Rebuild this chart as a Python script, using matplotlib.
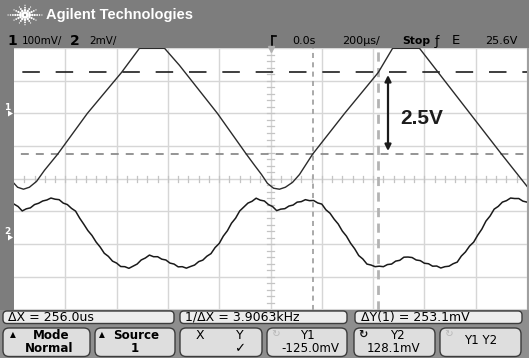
import numpy as np
import matplotlib
matplotlib.use("Agg")
import matplotlib.pyplot as plt
from matplotlib.patches import Rectangle, FancyBboxPatch

# scope settings
ch1_scale_mv = 100.0      # mV/div
ch2_scale_mv = 2.0        # mV/div
ch1_ground_div = 2.0
ch2_ground_div = -1.77
time_scale_us = 200.0     # us/div

# channel 1 (triangle, clipped at top of screen)
ch1_t_us = [-1000, -986, -963, -940, -912, -881, -830, -714, -581, -511, -413, -355,
            -207, -94, -62, -35, -12, 12, 35, 58, 86, 113, 164, 289, 420, 476,
            581, 901, 1000]
ch1_mv = [-214, -226, -232, -226, -208, -174, -125, 0, 125, 199, 199, 147,
          0, -125, -159, -187, -214, -229, -232, -226, -211, -187, -125, 0, 125, 199,
          199, -125, -223]

# channel 2 (noisy, sampled every 16 us from -1000 to 1000 us)
ch2_mv = [1.99, 1.84, 1.57, 1.70, 1.76, 1.96, 2.04, 2.18, 2.24, 2.36,
          2.29, 2.26, 2.05, 1.96, 1.73, 1.56, 1.13, 0.76, 0.37, 0.07,
          -0.33, -0.64, -1.02, -1.21, -1.50, -1.62, -1.83, -1.84, -1.94, -1.81,
          -1.68, -1.43, -1.31, -1.13, -1.23, -1.23, -1.38, -1.43, -1.62, -1.68,
          -1.85, -1.84, -1.93, -1.83, -1.74, -1.53, -1.44, -1.20, -1.04, -0.67,
          -0.42, 0.03, 0.36, 0.82, 1.13, 1.57, 1.81, 2.05, 2.16, 2.35,
          2.23, 2.18, 1.96, 1.84, 1.59, 1.68, 1.71, 1.87, 1.93, 2.11,
          2.14, 2.26, 2.20, 2.21, 2.06, 1.99, 1.64, 1.43, 1.07, 0.77,
          0.34, 0.03, -0.40, -0.74, -1.16, -1.37, -1.68, -1.74, -1.84, -1.81,
          -1.84, -1.71, -1.68, -1.50, -1.45, -1.26, -1.25, -1.28, -1.43, -1.47,
          -1.63, -1.66, -1.81, -1.80, -1.92, -1.84, -1.81, -1.66, -1.56, -1.19,
          -0.94, -0.58, -0.34, 0.09, 0.46, 0.95, 1.26, 1.68, 1.85, 2.11,
          2.20, 2.36, 2.33, 2.33, 2.17, 2.11]
ch2_t_us = np.linspace(-1000, 1000, len(ch2_mv))

# cursors
cursor_x_us = [164.0, 420.0]
cursor_y_mv = [-125.0, 128.1]

W, H = 529, 358
GRAY = "#7d7d7d"

fig = plt.figure(figsize=(W / 100, H / 100), dpi=100)
bg = fig.add_axes([0, 0, 1, 1])
bg.set_xlim(0, W)
bg.set_ylim(H, 0)
bg.axis("off")

# frame pieces
bg.add_patch(Rectangle((0, 0), W, 48, color=GRAY, lw=0))
bg.add_patch(Rectangle((0, 48), 14, 262, color=GRAY, lw=0))
bg.add_patch(Rectangle((0, 309.5), W, 50, color="#8e8e8e", lw=0))
bg.add_patch(Rectangle((527, 48), 2, 262, color="#a0a0a0", lw=0))

# logo
cx, cy = 25, 15
for ang, length in [(0, 19), (180, 19), (25, 14), (155, 14), (205, 14), (335, 14),
                    (55, 11), (125, 11), (235, 11), (305, 11), (90, 10), (270, 10)]:
    rr = np.arange(2.5, length, 2.4)
    a = np.deg2rad(ang)
    bg.scatter(cx + rr * np.cos(a), cy - rr * np.sin(a),
               s=np.linspace(4, 0.8, len(rr)), color="white", lw=0)
bg.text(46, 15.5, "Agilent Technologies", color="white", fontsize=10.5,
        family="Liberation Sans", fontweight="bold", va="center", ha="left")

# status line
st_y = 41
bg.text(7, st_y, "1", fontsize=10, fontweight="bold", va="center")
bg.text(22, st_y, "100mV/", fontsize=7.5, va="center")
bg.text(70, st_y, "2", fontsize=10, fontweight="bold", va="center")
bg.text(89, st_y, "2mV/", fontsize=7.5, va="center")
bg.plot([271.5, 271.5], [36, 46], color="black", lw=1.2)
bg.plot([271.5, 276], [36, 36], color="black", lw=1.2)
bg.text(292, st_y, "0.0s", fontsize=8, va="center")
bg.text(342, st_y, "200µs/", fontsize=8, va="center")
bg.text(402, st_y, "Stop", fontsize=7.8, fontweight="bold", va="center")
bg.text(435, st_y, "ƒ", fontsize=9, va="center")
bg.text(452, st_y, "E", fontsize=9.5, va="center")
bg.text(485, st_y, "25.6V", fontsize=8, va="center")

# channel ground markers
bg.text(7.5, 108, "1", color="white", fontsize=6.5, fontweight="bold", ha="center", va="center")
bg.text(7.5, 232, "2", color="white", fontsize=6.5, fontweight="bold", ha="center", va="center")
for gy in (113.5, 237.5):
    bg.add_patch(plt.Polygon([[8, gy - 3], [13, gy], [8, gy + 3]], color="white", lw=0))

# graticule axes
ax = fig.add_axes([14 / W, (H - 309.5) / H, 513 / W, 261.5 / H])
ax.set_xlim(-5, 5)
ax.set_ylim(-4, 4)
ax.axis("off")
ax.add_patch(Rectangle((-5, -4), 10, 8, color="white", lw=0, zorder=0))
gc = "#d6d6d6"
for gx in range(-4, 6):
    ax.axvline(gx, color=gc, lw=1.0, zorder=1)
for gy in range(-3, 5):
    ax.axhline(gy, color=gc, lw=1.0, zorder=1)
ax.axhline(-4, color=gc, lw=1.5, zorder=1)
for k in np.arange(-4.8, 4.9, 0.2):
    ax.plot([k, k], [-0.09, 0.09], color="#c4c4c4", lw=0.9, zorder=1)
for k in np.arange(-3.8, 3.9, 0.2):
    ax.plot([-0.06, 0.06], [k, k], color="#c4c4c4", lw=0.9, zorder=1)
ax.plot([0], [3.97], marker="v", ms=4, color="#b0b0b0", zorder=2, clip_on=False)

# cursors
x1d, x2d = [v / time_scale_us for v in cursor_x_us]
y1d, y2d = [v / ch1_scale_mv + ch1_ground_div for v in cursor_y_mv]
ax.axvline(x1d, color="#a9a9a9", lw=1.4, linestyle=(0, (2.6, 2.2)), zorder=2)
ax.axvline(x2d, color="#b3b3b3", lw=2.0, linestyle=(0, (3.3, 2.3)), zorder=2)
ax.axhline(y1d, color="#8c8c8c", lw=1.3, linestyle=(4.5, (4.4, 3.9)), zorder=2)
ax.axhline(y2d, color="#1e1e1e", lw=1.2, linestyle=(15, (10.5, 9.5)), zorder=2)

# traces
t1 = np.array(ch1_t_us) / time_scale_us
v1 = np.array(ch1_mv) / ch1_scale_mv + ch1_ground_div
ax.plot(t1, v1, color="#2b2b2b", lw=1.0, zorder=3)
t2 = ch2_t_us / time_scale_us
v2 = np.array(ch2_mv) / ch2_scale_mv + ch2_ground_div
ax.plot(t2, v2, color="#1a1a1a", lw=1.1, zorder=3)

# overlay for the 2.5V annotation
ov = fig.add_axes([0, 0, 1, 1])
ov.set_xlim(0, W)
ov.set_ylim(H, 0)
ov.axis("off")
ov.patch.set_alpha(0)
ov.annotate("", xy=(388, 75), xytext=(388, 151),
            arrowprops=dict(arrowstyle="<|-|>", color="#1a1a1a", lw=1.6,
                            mutation_scale=9, shrinkA=0, shrinkB=0))
ov.text(400, 118, "2.5V", fontsize=15, color="#1c1c1c", family="Liberation Sans",
        fontweight="bold", va="center", ha="left")

# measurement row
def pill(x0, x1, y0, y1, r, fc):
    bg.add_patch(FancyBboxPatch((x0, y0), x1 - x0, y1 - y0,
                                boxstyle="round,pad=0,rounding_size=%g" % r,
                                fc=fc, ec="#3c3c3c", lw=1.0))

for x0, x1 in [(3, 174), (180, 347), (355, 522)]:
    pill(x0, x1, 311, 323.5, 4, "#ececec")
bg.text(8, 317.5, "ΔX = 256.0us", fontsize=9, va="center")
bg.text(185, 317.5, "1/ΔX = 3.9063kHz", fontsize=9, va="center")
bg.text(361, 317.5, "ΔY(1) = 253.1mV", fontsize=9, va="center")

# softkeys
keys = [(3, 90), (95, 175), (180, 262), (267, 347), (354, 435), (440, 521)]
for x0, x1 in keys:
    pill(x0, x1, 328, 356.5, 6, "#dedede")
r1, r2 = 335.5, 349
bg.text(13, r1 - 1, "▲", fontsize=5.5, va="center", ha="center")
bg.text(51, r1, "Mode", fontsize=8.6, fontweight="bold", va="center", ha="center")
bg.text(49, r2, "Normal", fontsize=8.6, fontweight="bold", va="center", ha="center")
bg.text(102, r1 - 1, "▲", fontsize=5.5, va="center", ha="center")
bg.text(136, r1, "Source", fontsize=8.6, fontweight="bold", va="center", ha="center")
bg.text(135, r2, "1", fontsize=8.6, fontweight="bold", va="center", ha="center")
bg.text(200, r1, "X", fontsize=9, va="center", ha="center")
bg.text(240, r1, "Y", fontsize=9, va="center", ha="center")
bg.text(240, r2, "✓", fontsize=9.5, va="center", ha="center")
bg.text(276, r1 - 1, "↻", fontsize=7.5, color="#b8b8b8", va="center", ha="center")
bg.text(307, r1, "Y1", fontsize=8.6, va="center", ha="center")
bg.text(310, r2, "-125.0mV", fontsize=8.6, va="center", ha="center")
bg.text(363, r1 - 1, "↻", fontsize=8, fontweight="bold", color="#111111", va="center", ha="center")
bg.text(397, r1, "Y2", fontsize=8.6, va="center", ha="center")
bg.text(393, r2, "128.1mV", fontsize=8.6, va="center", ha="center")
bg.text(449, r1 - 1, "↻", fontsize=7.5, color="#b8b8b8", va="center", ha="center")
bg.text(481, 341, "Y1 Y2", fontsize=8.6, va="center", ha="center")

fig.savefig("out.png", dpi=100)
